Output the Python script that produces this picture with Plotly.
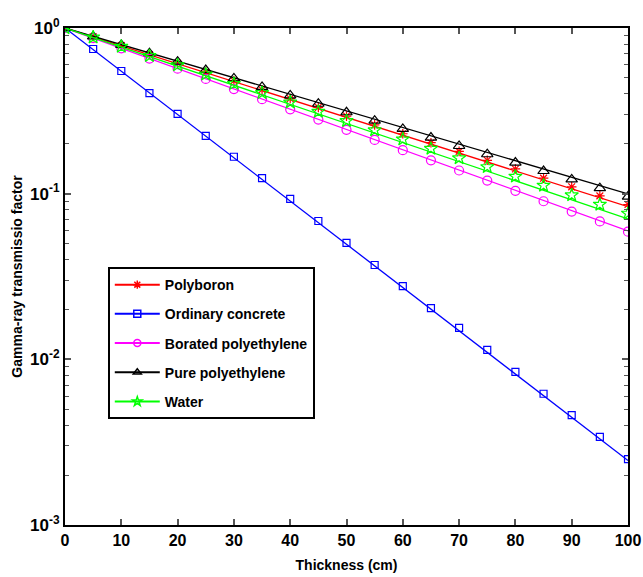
import plotly.graph_objects as go

# Thickness of the shield (cm)
thickness = [0, 5, 10, 15, 20, 25, 30, 35, 40, 45, 50, 55, 60, 65, 70, 75, 80, 85, 90, 95, 100]

# Simulated gamma-ray transmission factors
polyboron = [1, 0.885, 0.783, 0.692, 0.613, 0.542, 0.480, 0.424, 0.375, 0.332, 0.294,
             0.260, 0.230, 0.203, 0.180, 0.159, 0.141, 0.124, 0.110, 0.097, 0.086]
concrete = [1, 0.747, 0.550, 0.405, 0.303, 0.223, 0.167, 0.124, 0.0929, 0.0684, 0.0504,
            0.0371, 0.0277, 0.0204, 0.0155, 0.0114, 0.0084, 0.0062, 0.0046, 0.0034, 0.0025]
borated_pe = [1, 0.868, 0.754, 0.654, 0.568, 0.493, 0.428, 0.372, 0.323, 0.280, 0.243,
              0.211, 0.183, 0.159, 0.138, 0.120, 0.104, 0.090, 0.078, 0.068, 0.059]
pure_pe = [1, 0.890, 0.791, 0.704, 0.626, 0.557, 0.496, 0.441, 0.392, 0.349, 0.310,
           0.276, 0.246, 0.218, 0.194, 0.173, 0.154, 0.137, 0.122, 0.108, 0.096]
water = [1, 0.879, 0.773, 0.679, 0.597, 0.525, 0.461, 0.406, 0.356, 0.313, 0.275,
         0.242, 0.213, 0.187, 0.164, 0.145, 0.127, 0.112, 0.098, 0.086, 0.076]

# Exponential attenuation fits: value at the two ends of the thickness range
fit_x = [0, 100]
fit_polyboron = [1, 0.0835]
fit_concrete = [1, 0.00245]
fit_borated_pe = [1, 0.0596]
fit_pure_pe = [1, 0.0998]
fit_water = [1, 0.0704]

y_ticks = [1, 0.1, 0.01, 0.001]
y_tick_text = ["10<sup>0</sup>", "10<sup>-1</sup>", "10<sup>-2</sup>", "10<sup>-3</sup>"]
x_ticks = [0, 10, 20, 30, 40, 50, 60, 70, 80, 90, 100]

series = [
    ("Polyboron", polyboron, fit_polyboron, "#ff0000", "asterisk-open", 8),
    ("Ordinary concrete", concrete, fit_concrete, "#0000ff", "square-open", 7),
    ("Borated polyethylene", borated_pe, fit_borated_pe, "#ff00ff", "circle-open", 9),
    ("Pure polyethylene", pure_pe, fit_pure_pe, "#000000", "triangle-up-open", 10),
    ("Water", water, fit_water, "#00ff00", "star-open", 10),
]

fig = go.Figure()
for i, (name, vals, fit, color, symbol, size) in enumerate(series):
    fig.add_trace(go.Scatter(x=fit_x, y=fit, mode="lines",
                             line=dict(color=color, width=1.3),
                             showlegend=False, hoverinfo="skip"))
    fig.add_trace(go.Scatter(x=thickness, y=vals, mode="markers", name=name,
                             marker=dict(symbol=symbol, size=size, color=color,
                                         line=dict(color=color, width=1.2)),
                             showlegend=False))
    # legend entry: line with a small marker in the middle
    fig.add_trace(go.Scatter(x=[None], y=[None], mode="lines+markers", name=name,
                             legendgroup=f"g{i}",
                             line=dict(color=color, width=2),
                             marker=dict(symbol=symbol, size=7, color=color,
                                         line=dict(color=color, width=1.5))))

axis_font = dict(family="Liberation Sans, Arial, sans-serif", size=15,
                 color="black", weight="bold")

fig.update_layout(
    width=643, height=577,
    margin=dict(l=65, r=15, t=28, b=52),
    plot_bgcolor="white", paper_bgcolor="white",
    font=axis_font,
    showlegend=True,
    legend=dict(x=0.076, y=0.519, xanchor="left", yanchor="top",
                bgcolor="white", bordercolor="black", borderwidth=2,
                traceorder="grouped", tracegroupgap=8, itemwidth=45,
                font=dict(family="Liberation Sans, Arial, sans-serif", size=14,
                          color="black", weight="bold")),
    xaxis=dict(range=[0, 100], tickvals=x_ticks, ticks="inside", ticklen=6,
               tickcolor="#555555", tickwidth=1.5, automargin=False,
               showline=True, linecolor="black", linewidth=2, mirror="allticks",
               showgrid=False, zeroline=False,
               title=dict(text="Thickness (cm)", standoff=12,
                          font=dict(size=14, weight="bold")),
               tickfont=dict(size=16, weight="bold")),
    yaxis=dict(type="log", range=[-3, 0], tickvals=y_ticks, ticktext=y_tick_text,
               ticks="inside", ticklen=6, tickcolor="#555555", tickwidth=1.5,
               automargin=False,
               showline=True, linecolor="black", linewidth=2, mirror="allticks",
               showgrid=False, zeroline=False,
               minor=dict(ticks="inside", ticklen=4, tickcolor="#555555",
                          tickwidth=1.2, showgrid=False,
                          tickvals=[k * 10 ** e for e in (-3, -2, -1) for k in range(2, 10)]),
               title=dict(text="Gamma-ray transmissio factor", standoff=4,
                          font=dict(size=14, weight="bold")),
               tickfont=dict(size=17, weight="bold")),
)

fig.write_html("out.html")
